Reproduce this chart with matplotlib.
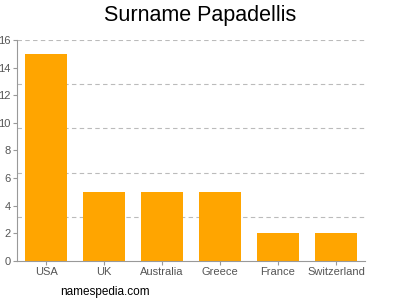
import matplotlib
matplotlib.use("Agg")
import matplotlib.pyplot as plt
import numpy as np

plt.rcParams["font.family"] = ["Liberation Sans", "DejaVu Sans"]

countries = ["USA", "UK", "Australia", "Greece", "France", "Switzerland"]
counts = [15, 5, 5, 5, 2, 2]
yticks = [0, 2, 4, 6, 8, 10, 12, 14, 16]
grid_levels = [3.2, 6.4, 9.6, 12.8, 16]

fig = plt.figure(figsize=(4, 3), dpi=100)
ax = fig.add_axes([0.0425, 0.13, 0.87, 0.7367])

x = np.arange(len(countries))
ax.bar(x, counts, width=0.74, color="#FFA500", zorder=2)

for g in grid_levels:
    ax.axhline(g, color="#BBBBBB", linestyle=(0, (4, 3)), linewidth=0.8, zorder=1)

ax.set_xlim(-0.5, len(countries) - 0.5)
ax.set_ylim(0, 16)
ax.set_xticks(x)
ax.set_xticklabels(countries)
ax.set_yticks(yticks)

for s in ["top", "right"]:
    ax.spines[s].set_visible(False)
for s in ["left", "bottom"]:
    ax.spines[s].set_color("#999999")
    ax.spines[s].set_linewidth(0.8)

ax.tick_params(axis="both", colors="#999999", labelcolor="#555555",
               labelsize=8, length=3, width=0.8, pad=1.5)

fig.text(0.5, 0.95, "Surname Papadellis", ha="center", va="center",
         fontsize=15.5, color="#000000")
fig.text(0.15, 0.027, "namespedia.com", ha="left", va="center",
         fontsize=8.5, color="#000000")

fig.savefig("out.png", dpi=100)
